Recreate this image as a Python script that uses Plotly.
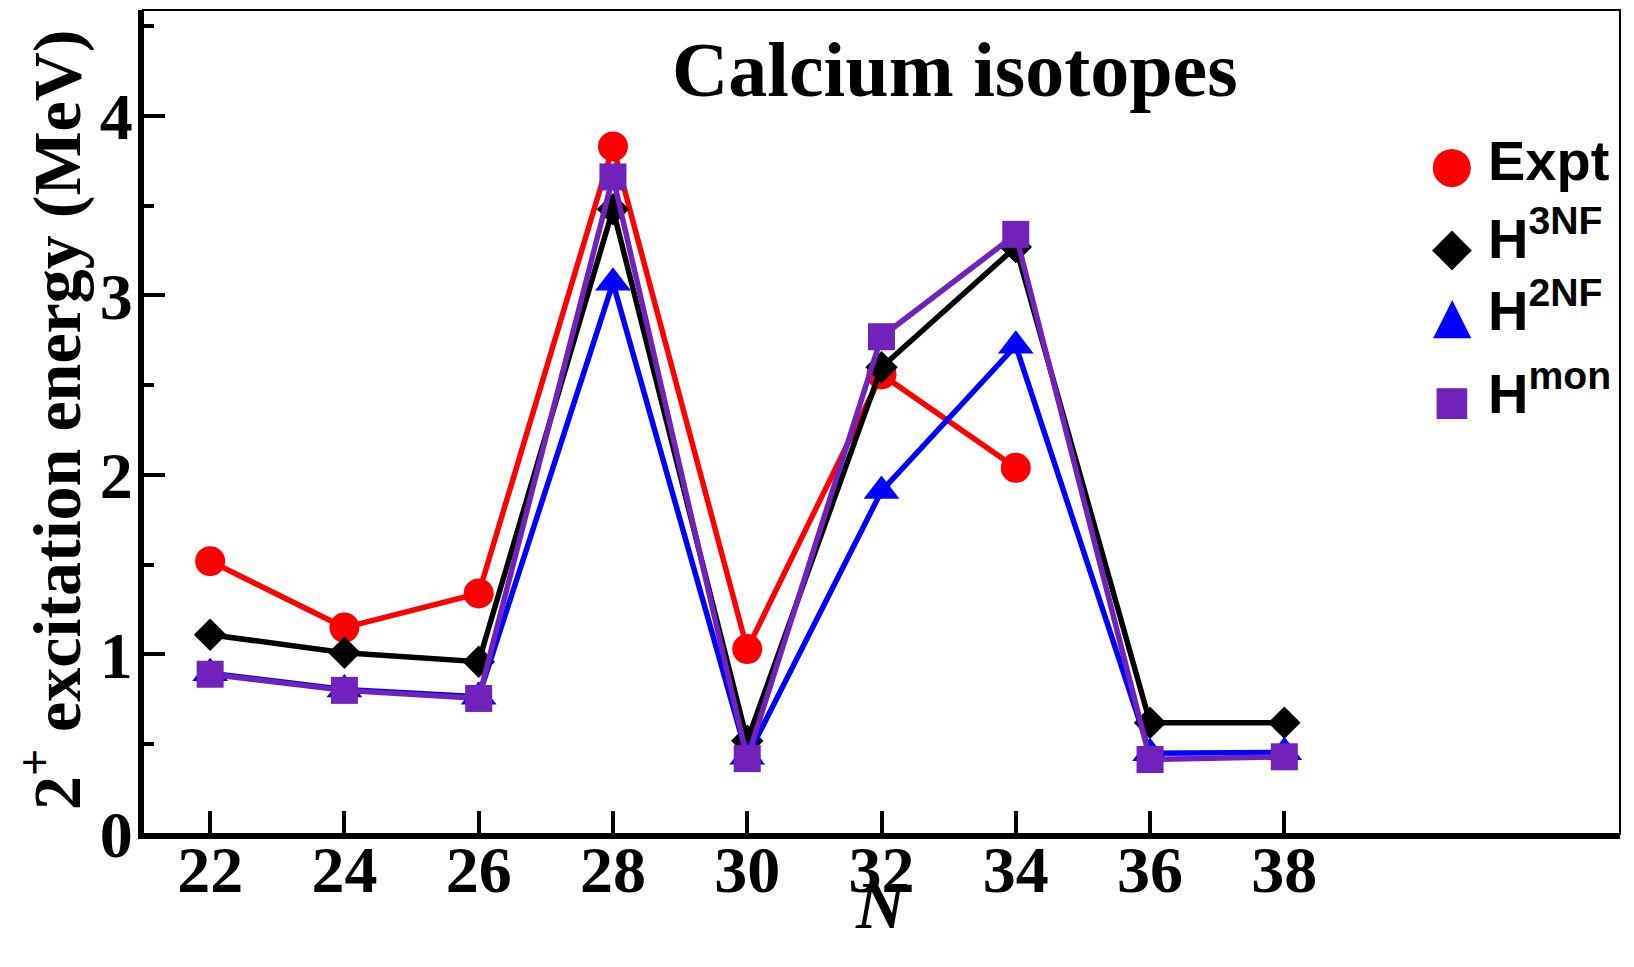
import plotly.graph_objects as go

# ---- data ----
N = [22, 24, 26, 28, 30, 32, 34, 36, 38]
expt = [1.52, 1.15, 1.34, 3.83, 1.03, 2.56, 2.04, None, None]
h3nf = [1.11, 1.01, 0.96, 3.48, 0.52, 2.60, 3.27, 0.62, 0.62]
h2nf = [0.895, 0.805, 0.765, 3.07, 0.43, 1.91, 2.72, 0.45, 0.455]
hmon = [0.89, 0.80, 0.755, 3.66, 0.42, 2.77, 3.34, 0.415, 0.43]

series_names = ["Expt", "H<sup>3NF</sup>", "H<sup>2NF</sup>", "H<sup>mon</sup>"]
series_vals = [expt, h3nf, h2nf, hmon]
colors = ["#ff0000", "#000000", "#0000ff", "#7022bb"]
symbols = ["circle", "diamond", "triangle-up", "square"]
msizes = [30, 25, 31, 27]
glyphs = ["\u25CF", "\u25C6", "\u25B2", "\u25A0"]

x_ticks = [22, 24, 26, 28, 30, 32, 34, 36, 38]
y_ticks = [0, 1, 2, 3, 4]

SERIF = "Liberation Serif, Times New Roman, serif"
SANS = "Liberation Sans, Arial, sans-serif"

W, H = 1634, 967
L, R, T, B = 143, 14, 10, 133
PW, PH = W - L - R, H - T - B


def px(x):
    return (x - L) / PW


def py(y):
    return (H - B - y) / PH


fig = go.Figure()
for name, vals, c, s, ms in zip(series_names, series_vals, colors, symbols, msizes):
    fig.add_trace(go.Scatter(
        x=N, y=vals, name=name, mode="lines+markers",
        line=dict(color=c, width=5.5),
        marker=dict(color=c, symbol=s, size=ms, line=dict(width=0)),
        showlegend=False, connectgaps=False,
    ))

annotations = []
# title
annotations.append(dict(text="Calcium isotopes", x=px(955), y=py(70), xref="paper", yref="paper",
                        xanchor="center", yanchor="middle", showarrow=False,
                        font=dict(family=SERIF, size=78, color="black", weight="bold")))
# y axis title
annotations.append(dict(text="2<sup>+</sup> excitation energy (MeV)", x=px(52), y=py(420),
                        xref="paper", yref="paper", xanchor="center", yanchor="middle",
                        textangle=-90, showarrow=False,
                        font=dict(family=SERIF, size=68, color="black", weight="bold")))
# x axis title
annotations.append(dict(text="<i>N</i>", x=px(881), y=py(905), xref="paper", yref="paper",
                        xanchor="center", yanchor="middle", showarrow=False,
                        font=dict(family=SERIF, size=68, color="black", weight="bold")))

# legend (glyph + label)
glyph_y = [164, 246, 315, 400]
glyph_sizes = [50, 52, 50, 40]
label_bottom = [194, 272, 344, 427]
for g, c, gy, gs, name, lb in zip(glyphs, colors, glyph_y, glyph_sizes, series_names, label_bottom):
    annotations.append(dict(text=g, x=px(1452), y=py(gy), xref="paper", yref="paper",
                            xanchor="center", yanchor="middle", showarrow=False,
                            font=dict(family="DejaVu Sans", size=gs, color=c)))
    annotations.append(dict(text=name, x=px(1486), y=py(lb), xref="paper", yref="paper",
                            xanchor="left", yanchor="bottom", showarrow=False,
                            font=dict(family=SANS, size=56, color="black", weight="bold")))

fig.update_layout(
    width=W, height=H,
    margin=dict(l=L, r=R, t=T, b=B, pad=0),
    paper_bgcolor="white", plot_bgcolor="white",
    annotations=annotations,
    shapes=[dict(type="rect", xref="paper", yref="paper", x0=0, x1=1, y0=0, y1=1,
                 line=dict(color="black", width=2), layer="below")],
)

fig.update_xaxes(
    range=[21, 43], tickvals=x_ticks, ticktext=[str(v) for v in x_ticks],
    showgrid=False, zeroline=False, showline=True, linewidth=5, linecolor="black",
    ticks="inside", ticklen=23, tickwidth=4, tickcolor="black", ticklabelstandoff=-26,
    tickfont=dict(family=SERIF, size=66, color="black", weight="bold"),
)
fig.update_yaxes(
    range=[0, 4.59], tickvals=y_ticks, ticktext=[str(v) for v in y_ticks],
    showgrid=False, zeroline=False, showline=True, linewidth=5, linecolor="black",
    ticks="inside", ticklen=22, tickwidth=4, tickcolor="black", ticklabelstandoff=-8,
    minor=dict(ticks="inside", ticklen=11, tickwidth=4, tickcolor="black", dtick=0.5, tick0=0, showgrid=False),
    tickfont=dict(family=SERIF, size=66, color="black", weight="bold"),
)

fig.write_html("out.html")
